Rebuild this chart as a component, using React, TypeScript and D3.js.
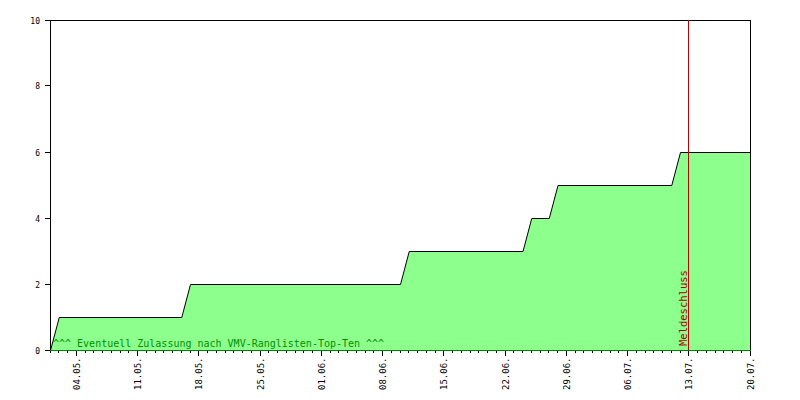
import * as d3 from "d3";
import { useEffect, useRef } from "react";

const WIDTH = 800;
const HEIGHT = 400;

// registrations over time (date, count)
const DATES = [
  "2008-05-01", "2008-05-02", "2008-05-16", "2008-05-17", "2008-06-10", "2008-06-11",
  "2008-06-24", "2008-06-25", "2008-06-27", "2008-06-28", "2008-07-11", "2008-07-12",
  "2008-07-20",
];
const COUNTS = [0, 1, 1, 2, 2, 3, 3, 4, 4, 5, 5, 6, 6];

const Y_TICKS = [0, 2, 4, 6, 8, 10];
const X_LABEL_DATES = [
  "2008-05-04", "2008-05-11", "2008-05-18", "2008-05-25", "2008-06-01", "2008-06-08",
  "2008-06-15", "2008-06-22", "2008-06-29", "2008-07-06", "2008-07-13", "2008-07-20",
];
const DEADLINE = "2008-07-13";
const DOMAIN_START = "2008-05-01";
const DOMAIN_END = "2008-07-20";

const NOTE = "^^^ Eventuell Zulassung nach VMV-Ranglisten-Top-Ten ^^^";
const DEADLINE_LABEL = "Meldeschluss";

const MONO = "DejaVu Sans Mono, Liberation Mono, monospace";

export default function App() {
  const ref = useRef<SVGSVGElement>(null);

  useEffect(() => {
    const svg = d3.select(ref.current);
    svg.selectAll("*").remove();

    const left = 50;
    const right = 750;
    const top = 20;
    const bottom = 350;
    const px = (v: number) => Math.floor(v) + 0.5;

    const parse = (s: string) => new Date(s + "T00:00:00Z");
    const x = d3.scaleUtc().domain([parse(DOMAIN_START), parse(DOMAIN_END)]).range([left, right]);
    const y = d3.scaleLinear().domain([0, 10]).range([bottom, top]);

    const data = DATES.map((d, i) => ({ date: parse(d), value: COUNTS[i] }));

    svg.append("rect").attr("width", WIDTH).attr("height", HEIGHT).attr("fill", "#ffffff");

    const area = d3
      .area<{ date: Date; value: number }>()
      .x((d) => x(d.date) + 0.5)
      .y0(y(0) + 0.5)
      .y1((d) => y(d.value) + 0.5);
    svg.append("path").datum(data).attr("d", area).attr("fill", "#8cff8c");

    // frame top and right
    svg
      .append("line")
      .attr("x1", 45).attr("x2", right + 0.5).attr("y1", top + 0.5).attr("y2", top + 0.5)
      .attr("stroke", "#000");
    svg
      .append("line")
      .attr("x1", right + 0.5).attr("x2", right + 0.5).attr("y1", top).attr("y2", bottom)
      .attr("stroke", "#000");

    const line = d3
      .line<{ date: Date; value: number }>()
      .x((d) => x(d.date) + 0.5)
      .y((d) => y(d.value) + 0.5);
    svg
      .append("path")
      .datum(data)
      .attr("d", line)
      .attr("fill", "none")
      .attr("stroke", "#000")
      .attr("stroke-width", 1);

    // y axis
    svg
      .append("line")
      .attr("x1", left + 0.5).attr("x2", left + 0.5).attr("y1", top).attr("y2", bottom)
      .attr("stroke", "#000");
    Y_TICKS.forEach((t) => {
      const yy = px(y(t));
      svg.append("line")
        .attr("x1", 45).attr("x2", left).attr("y1", yy).attr("y2", yy)
        .attr("stroke", "#000");
      svg.append("text")
        .attr("x", 40).attr("y", yy + 3)
        .attr("text-anchor", "end")
        .attr("font-family", MONO)
        .attr("font-size", 8)
        .attr("fill", "#000")
        .text(String(t));
    });

    // x axis: daily minor ticks
    const days = d3.utcDay.range(parse(DOMAIN_START), d3.utcDay.offset(parse(DOMAIN_END), 1));
    days.forEach((d) => {
      const xx = px(x(d));
      svg.append("line")
        .attr("x1", xx).attr("x2", xx).attr("y1", bottom).attr("y2", bottom + 3)
        .attr("stroke", "#000");
    });
    X_LABEL_DATES.forEach((s) => {
      const xx = px(x(parse(s)));
      svg.append("line")
        .attr("x1", xx).attr("x2", xx).attr("y1", bottom).attr("y2", bottom + 6)
        .attr("stroke", "#000");
      const label = d3.utcFormat("%d.%m.")(parse(s));
      svg.append("text")
        .attr("transform", `translate(${xx + 3},390) rotate(-90)`)
        .attr("text-anchor", "start")
        .attr("font-family", MONO)
        .attr("font-size", 9)
        .attr("fill", "#000")
        .text(label);
    });
    svg
      .append("line")
      .attr("x1", left).attr("x2", right + 1).attr("y1", bottom + 0.5).attr("y2", bottom + 0.5)
      .attr("stroke", "#008000");

    // note
    svg
      .append("text")
      .attr("x", 53).attr("y", bottom - 3)
      .attr("font-family", MONO)
      .attr("font-size", 10)
      .attr("fill", "#009000")
      .text(NOTE);

    // deadline
    const dx = px(x(parse(DEADLINE)));
    svg
      .append("line")
      .attr("x1", dx).attr("x2", dx).attr("y1", top).attr("y2", bottom)
      .attr("stroke", "#c00000");
    svg
      .append("text")
      .attr("transform", `translate(${dx - 2},${bottom - 4}) rotate(-90)`)
      .attr("font-family", MONO)
      .attr("font-size", 10.5)
      .attr("fill", "#b00000")
      .text(DEADLINE_LABEL);
  }, []);

  return (
    <svg
      ref={ref}
      width={WIDTH}
      height={HEIGHT}
      style={{ position: "absolute", left: 0, top: 0, display: "block" }}
    />
  );
}
